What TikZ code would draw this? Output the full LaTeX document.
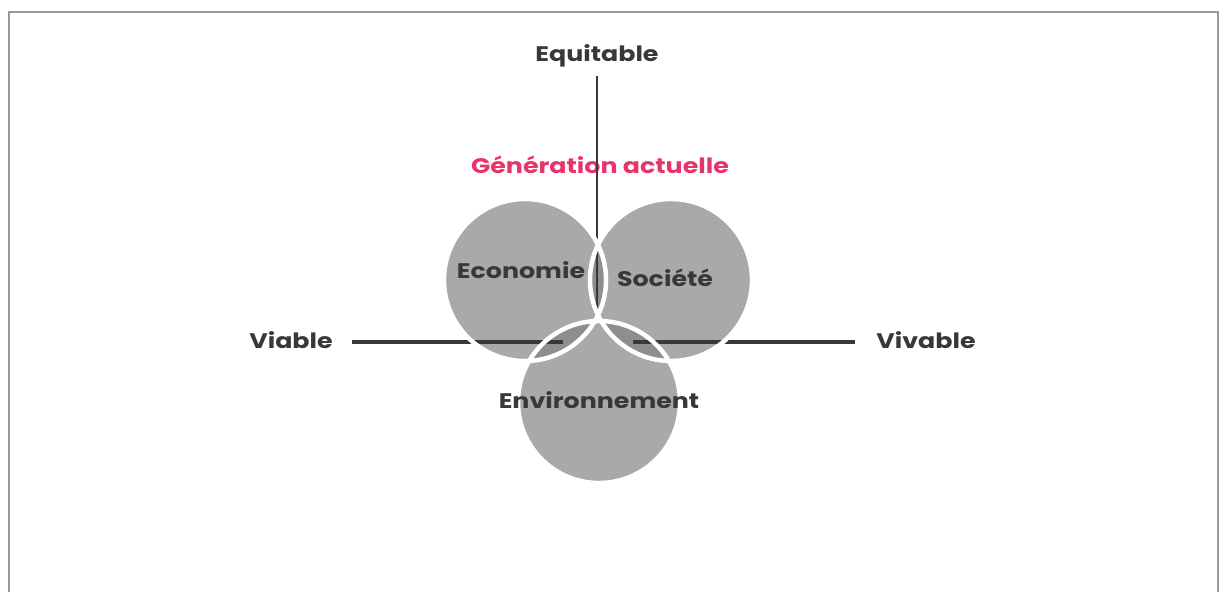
\documentclass[tikz,border=0pt]{standalone}
\usepackage{fontspec}
\setmainfont{Poppins}[FakeStretch=1.2]
\usepackage{tikz}
\definecolor{txtgray}{HTML}{383838}
\definecolor{pinkred}{HTML}{E8336B}
\definecolor{discgray}{HTML}{A9A9A9}
\definecolor{lensgray}{HTML}{8E8E8E}
\tikzset{%
    lbl/.style={font=\bfseries\fontsize{15}{17}\selectfont, text=txtgray, inner sep=0pt},
    ring/.style={draw=white, line width=3.2pt},
    axis/.style={txtgray, line width=2.3pt}
}

\begin{document}
\begin{tikzpicture}[x=0.025cm, y=-0.025cm]
            % page and frame
            \useasboundingbox (0,0) rectangle (1221,592);
            \draw[black!40, line width=1.2pt] (9,592) -- (9,12) -- (1218,12) -- (1218,592);

            % circle centres
            \coordinate (eco) at (525,280);
            \coordinate (soc) at (671,280);
            \coordinate (env) at (599,402);

            % the three circles
            \fill[discgray] (eco) circle [radius=2.025cm];
            \fill[discgray] (soc) circle [radius=2.025cm];
            \fill[discgray] (env) circle [radius=2.025cm];

            % darker overlaps
            \begin{scope}
                \clip (eco) circle [radius=2.025cm];
                \fill[lensgray] (soc) circle [radius=2.025cm];
                \fill[lensgray] (env) circle [radius=2.025cm];
            \end{scope}
            \begin{scope}
                \clip (soc) circle [radius=2.025cm];
                \fill[lensgray] (env) circle [radius=2.025cm];
            \end{scope}

            % axis labels
            \node[lbl] (equi) at (597,56){Equitable};
            \node[lbl] (viab) at (291,340){Viable};
            \node[lbl] (viva) at (926,340){Vivable};
            \node[lbl, text=pinkred] (gen) at (600,165){G\'en\'eration actuelle};

            % axes
            \coordinate (top) at (597,76);
            \coordinate (mid) at (597,320);
            \coordinate (lA) at (352,342);
            \coordinate (lB) at (563,342);
            \coordinate (rA) at (633,342);
            \coordinate (rB) at (855,342);
            \draw[axis, line width=1.4pt] (top) -- (mid);
            \draw[axis] (lA) -- (lB);
            \draw[axis] (rA) -- (rB);

            % white outlines
            \draw[ring] (eco) circle [radius=2.025cm];
            \draw[ring] (soc) circle [radius=2.025cm];
            \draw[ring] (env) circle [radius=2.025cm];

            % circle labels
            \node[lbl] (ecoL) at (521,270){Economie};
            \node[lbl] (socL) at (665,278){Soci\'et\'e};
            \node[lbl] (envL) at (599,400){Environnement};
        \end{tikzpicture}
\end{document}
